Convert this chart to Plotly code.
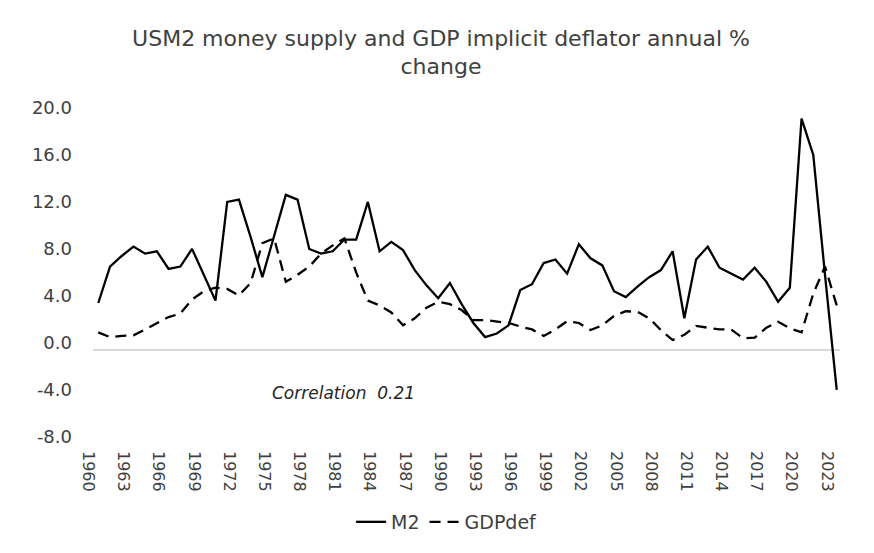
import plotly.graph_objects as go

# annual % change, 1960-2023
years = list(range(1960, 2024))

m2 = [
    4.0, 7.1, 8.0, 8.8, 8.2, 8.4, 6.9, 7.1, 8.6, 6.4,
    4.2, 12.6, 12.8, 9.6, 6.2, 9.7, 13.2, 12.8, 8.6, 8.2,
    8.4, 9.4, 9.4, 12.6, 8.4, 9.2, 8.5, 6.8, 5.5, 4.4,
    5.7, 3.9, 2.3, 1.1, 1.4, 2.1, 5.1, 5.6, 7.4, 7.7,
    6.5, 9.0, 7.8, 7.2, 5.0, 4.5, 5.4, 6.2, 6.8, 8.4,
    2.7, 7.7, 8.8, 7.0, 6.5, 6.0, 7.0, 5.8, 4.1, 5.3,
    19.7, 16.6, 6.4, -3.4,
]

gdp_def = [
    1.5, 1.1, 1.2, 1.25, 1.75, 2.3, 2.8, 3.1, 4.3, 5.0,
    5.3, 5.2, 4.65, 5.7, 9.1, 9.5, 5.8, 6.4, 7.1, 8.2,
    8.9, 9.5, 6.6, 4.2, 3.8, 3.2, 2.1, 2.7, 3.6, 4.1,
    3.9, 3.4, 2.55, 2.55, 2.4, 2.3, 2.0, 1.75, 1.2, 1.75,
    2.45, 2.3, 1.7, 2.1, 2.9, 3.3, 3.25, 2.7, 1.7, 0.85,
    1.3, 2.05, 1.9, 1.75, 1.75, 1.0, 1.05, 1.9, 2.4, 1.85,
    1.5, 4.8, 7.1, 3.8,
]

tick_years = list(range(1960, 2024, 3))
y_ticks = [-8, -4, 0, 4, 8, 12, 16, 20]
y_tick_labels = [f"{v:.1f}" for v in y_ticks]  # plain hyphen for negatives

text_color = "#404040"
font_family = "DejaVu Sans, Arial, sans-serif"

fig = go.Figure()

fig.add_trace(go.Scatter(
    x=years, y=m2, name="M2", mode="lines",
    line=dict(color="black", width=2.3),
))
fig.add_trace(go.Scatter(
    x=years, y=gdp_def, name="GDPdef", mode="lines",
    line=dict(color="black", width=2.3, dash="11px,7px"),
))

fig.add_annotation(
    x=1980.9, y=-3.7, text="<i>Correlation  0.21</i>", showarrow=False,
    font=dict(family=font_family, size=17, color="#262626"),
)

# the page body has an 8px margin, so the figure is sized to fit inside it
fig.update_layout(
    width=866, height=545,
    margin=dict(l=85, r=34, t=107, b=109),
    paper_bgcolor="white", plot_bgcolor="white",
    font=dict(family=font_family, color=text_color),
    title=dict(
        text="USM2 money supply and GDP implicit deflator annual %<br>change",
        x=0.5, xanchor="center", y=0.9305, yanchor="top",
        font=dict(family=font_family, size=22, color=text_color),
    ),
    showlegend=True,
    legend=dict(
        orientation="h", x=0.474, xanchor="center", y=-0.237, yanchor="middle",
        font=dict(size=19, color=text_color),
    ),
)

fig.update_xaxes(
    range=[1959.55, 2023.28],
    tickvals=tick_years, ticktext=[str(y) for y in tick_years],
    tickangle=90, tickfont=dict(size=16, color=text_color),
    showgrid=False, zeroline=False, showline=False, ticks="",
    ticklabelshift=-10, ticklabelstandoff=6,
)
fig.update_yaxes(
    range=[-8, 20], tickvals=y_ticks, ticktext=y_tick_labels,
    tickfont=dict(size=18, color=text_color),
    showgrid=False, showline=False, ticks="",
    zeroline=True, zerolinecolor="#d9d9d9", zerolinewidth=1.5,
    ticklabelshift=-7, ticklabelstandoff=20,
)

fig.write_html("out.html")
